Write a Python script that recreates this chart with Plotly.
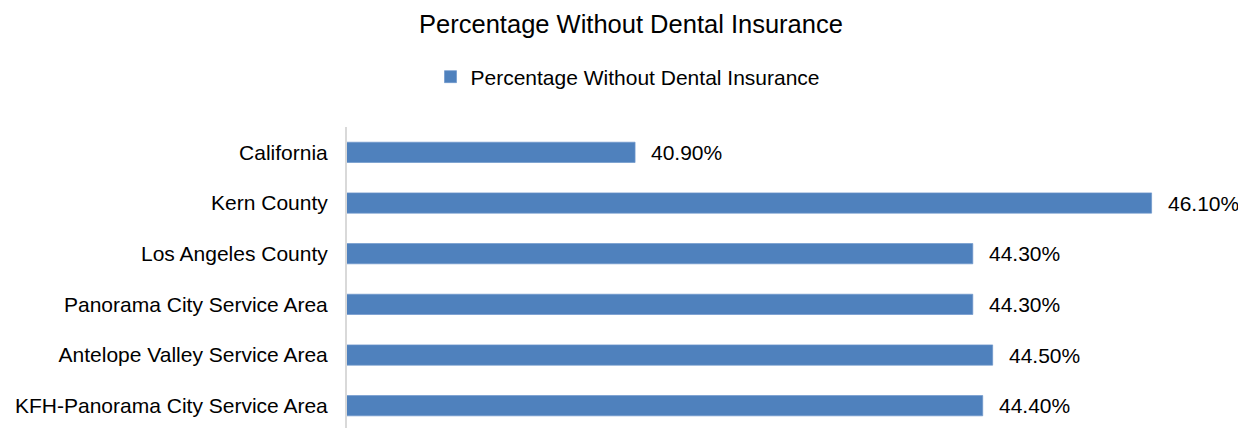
import plotly.graph_objects as go

categories = ["California", "Kern County", "Los Angeles County",
              "Panorama City Service Area", "Antelope Valley Service Area",
              "KFH-Panorama City Service Area"]
values = [40.9, 46.1, 44.3, 44.3, 44.5, 44.4]
labels = ["40.90%", "46.10%", "44.30%", "44.30%", "44.50%", "44.40%"]
series_name = "Percentage Without Dental Insurance"
title_text = "Percentage Without Dental Insurance"

FONT = "Liberation Sans, Arial, sans-serif"
OFF = 8  # page body margin
W, H = 1246 - OFF, 428 - OFF

fig = go.Figure()
fig.add_trace(go.Bar(
    x=values, y=categories, orientation="h", name=series_name,
    width=0.4, marker=dict(color="#4F81BD", line=dict(color="#6E97CB", width=0.7)),
    showlegend=True, hoverinfo="skip",
))

for c, v, t in zip(categories, values, labels):
    fig.add_annotation(x=v, y=c, text=t, showarrow=False, xanchor="left",
                       xshift=14, font=dict(family=FONT, size=21, color="#000000"))

fig.update_layout(
    width=W, height=H,
    margin=dict(l=347 - OFF, r=5, t=127 - OFF, b=0, pad=0),
    paper_bgcolor="white", plot_bgcolor="white",
    font=dict(family=FONT, size=21, color="#000000"),
    title=dict(text=title_text, x=(631 - OFF) / W, xanchor="center", xref="container",
               y=1 - (24 - OFF) / H, yanchor="middle", yref="container",
               font=dict(family=FONT, size=25.5, color="#000000")),
    legend=dict(orientation="h", xref="container", yref="container",
                x=(628 - OFF) / W, xanchor="center", y=1 - (77 - OFF) / H, yanchor="middle",
                font=dict(family=FONT, size=21, color="#000000"),
                itemwidth=30, bgcolor="rgba(0,0,0,0)"),
    xaxis=dict(range=[38, 47], showgrid=False, zeroline=False,
               showticklabels=False, showline=False, ticks=""),
    yaxis=dict(categoryorder="array", categoryarray=categories,
               range=[5.44, -0.5], showgrid=False, zeroline=False,
               showline=True, linecolor="#D9D9D9", linewidth=2,
               ticks="", ticklabelstandoff=13,
               tickfont=dict(family=FONT, size=21, color="#000000")),
    bargap=0.6,
)

fig.write_html("out.html")
